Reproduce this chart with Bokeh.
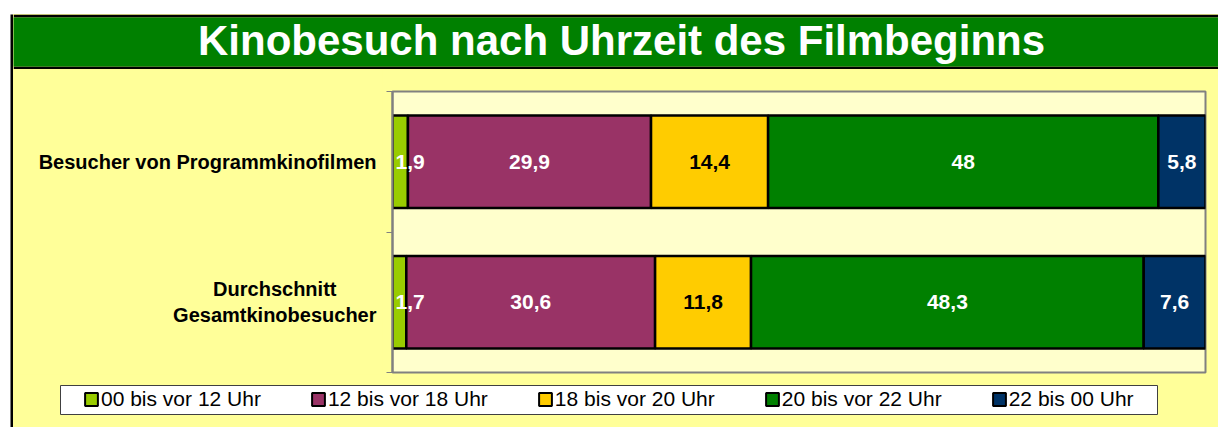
from bokeh.plotting import figure
from bokeh.layouts import column, row
from bokeh.models import (Range1d, FixedTicker, Legend, LegendItem, ColumnDataSource, Spacer)
from bokeh.core.properties import value
from bokeh.embed import file_html
from bokeh.resources import INLINE

# ---------------- data ----------------
title_text = "Kinobesuch nach Uhrzeit des Filmbeginns"
categories = ["Besucher von Programmkinofilmen", "Durchschnitt\nGesamtkinobesucher"]
series_names = ["00 bis vor 12 Uhr", "12 bis vor 18 Uhr", "18 bis vor 20 Uhr",
                "20 bis vor 22 Uhr", "22 bis 00 Uhr"]
v_00_12 = [1.9, 1.7]
v_12_18 = [29.9, 30.6]
v_18_20 = [14.4, 11.8]
v_20_22 = [48.0, 48.3]
v_22_00 = [5.8, 7.6]
series_values = [v_00_12, v_12_18, v_18_20, v_20_22, v_22_00]
series_colors = ["#99CC00", "#993366", "#FFCC00", "#008000", "#003366"]
label_colors = ["white", "white", "black", "white", "white"]

FONT = value("Liberation Sans")
PAGE_BG = "#FFFF99"
PLOT_BG = "#FFFFCC"
W = 1205          # width of the chart body (right of the black border)
LW = 369          # width of the category label strip


def bare(fig):
    fig.grid.visible = False
    try:
        fig.frame_align = False
    except Exception:
        pass
    return fig


# ---------------- left border strip ----------------
lb = bare(figure(width=13, height=413, x_range=Range1d(0, 1), y_range=Range1d(0, 1),
                 toolbar_location=None, output_backend="svg",
                 x_axis_location=None, y_axis_location=None,
                 min_border_left=10, min_border_top=0, min_border_right=0, min_border_bottom=0,
                 background_fill_color="black", border_fill_color="white",
                 outline_line_color=None))

# ---------------- title strip ----------------
tf = bare(figure(width=W, height=55, x_range=Range1d(0, 1), y_range=Range1d(0, 1),
                 toolbar_location=None, output_backend="svg",
                 x_axis_location=None, y_axis_location=None,
                 min_border_left=0, min_border_right=0, min_border_top=3, min_border_bottom=3,
                 background_fill_color="#008000", border_fill_color="black",
                 outline_line_color=None))
tsrc = ColumnDataSource(dict(x=[0.5046], y=[0.54], t=[title_text]))
tf.text(x="x", y="y", text="t", source=tsrc, text_color="white",
        text_font_size="42px", text_font_style="bold", text_font=FONT,
        text_align="center", text_baseline="middle")

# ---------------- main chart ----------------
n = len(categories)
ypos = [n - 1 - i for i in range(n)]
yr = Range1d(-0.5, n - 0.5)

p = bare(figure(width=W - LW, height=305, x_range=Range1d(0, 100), y_range=yr,
                toolbar_location=None, output_backend="svg", x_axis_location=None,
                min_border_left=10, min_border_right=13, min_border_top=22, min_border_bottom=2,
                background_fill_color=PLOT_BG, border_fill_color=PAGE_BG,
                outline_line_color="#808080", outline_line_width=2))
ax = p.yaxis[0]
ax.ticker = FixedTicker(ticks=[], minor_ticks=[k - 0.5 for k in range(n + 1)])
ax.major_tick_out = 0
ax.major_tick_in = 0
ax.minor_tick_out = 6
ax.minor_tick_in = 0
ax.minor_tick_line_color = "#808080"
ax.axis_line_color = "#808080"
ax.axis_line_width = 2
ax.major_label_standoff = 0

left = [0.0] * n
label_sets = []
for vals, col, lc in zip(series_values, series_colors, label_colors):
    right = [l + v for l, v in zip(left, vals)]
    src = ColumnDataSource(dict(y=ypos, left=left, right=right))
    p.hbar(y="y", left="left", right="right", height=0.66, source=src,
           fill_color=col, line_color="black", line_width=2.5)
    label_sets.append((list(left), right, vals, lc))
    left = right

for lefts, rights, vals, lc in label_sets:
    txt = [f"{v:g}".replace(".", ",") for v in vals]
    small = [v < 3 for v in vals]
    cx = [(l + rr) / 2 for l, rr in zip(lefts, rights)]
    big_src = ColumnDataSource(dict(
        x=[c for c, s in zip(cx, small) if not s],
        y=[y for y, s in zip(ypos, small) if not s],
        t=[t for t, s in zip(txt, small) if not s]))
    small_src = ColumnDataSource(dict(
        x=[l for l, s in zip(lefts, small) if s],
        y=[y for y, s in zip(ypos, small) if s],
        t=[t for t, s in zip(txt, small) if s]))
    p.text(x="x", y="y", text="t", source=big_src, text_color=lc,
           text_font_size="21px", text_font_style="bold", text_font=FONT,
           text_align="center", text_baseline="middle")
    p.text(x="x", y="y", text="t", source=small_src, text_color=lc,
           text_font_size="21px", text_font_style="bold", text_font=FONT,
           text_align="left", text_baseline="middle", x_offset=3)

# ---------------- category labels ----------------
labfig = bare(figure(width=LW, height=305, x_range=Range1d(0, 1), y_range=yr,
                     toolbar_location=None, output_backend="svg",
                     x_axis_location=None, y_axis_location=None,
                     min_border_left=0, min_border_right=0, min_border_top=22, min_border_bottom=2,
                     background_fill_color=PAGE_BG, border_fill_color=PAGE_BG,
                     outline_line_color=None))
csrc = ColumnDataSource(dict(x=[1] * n, y=ypos, t=categories))
try:
    labfig.text(x="x", y="y", text="t", source=csrc, text_color="black",
                text_font_size="20px", text_font_style="bold", text_font=FONT,
                anchor="center_right", text_align="center", text_baseline="middle",
                x_offset=-6)
except Exception:
    labfig.text(x="x", y="y", text="t", source=csrc, text_color="black",
                text_font_size="20px", text_font_style="bold", text_font=FONT,
                text_align="right", text_baseline="middle", x_offset=-6)

# ---------------- legend strip ----------------
lf = bare(figure(width=W, height=53, x_range=Range1d(0, 1), y_range=Range1d(0, 1),
                 toolbar_location=None, output_backend="svg",
                 x_axis_location=None, y_axis_location=None,
                 min_border_left=47, min_border_right=61, min_border_top=11, min_border_bottom=13,
                 background_fill_color="white", border_fill_color=PAGE_BG,
                 outline_line_color="#404040", outline_line_width=1))
nan = float("nan")
items = []
for name, col in zip(series_names, series_colors):
    r = lf.hbar(y=[nan], left=[nan], right=[nan], height=0.5, fill_color=col,
                line_color="black", line_width=2)
    items.append(LegendItem(label=name, renderers=[r]))
legend = Legend(items=items, orientation="horizontal", location=(23, 3),
                glyph_width=16, glyph_height=16, label_standoff=2, spacing=49,
                padding=0, margin=0, label_height=23,
                label_text_font="Liberation Sans", label_text_font_size="21px",
                label_text_color="black",
                background_fill_alpha=0, border_line_color=None)
lf.add_layout(legend)

body = column(tf, row(labfig, p, styles={"background-color": PAGE_BG}), lf,
              styles={"background-color": PAGE_BG})
layout = column(Spacer(width=1218, height=14), row(lb, body))

open("out.html", "w").write(file_html(layout, INLINE))
